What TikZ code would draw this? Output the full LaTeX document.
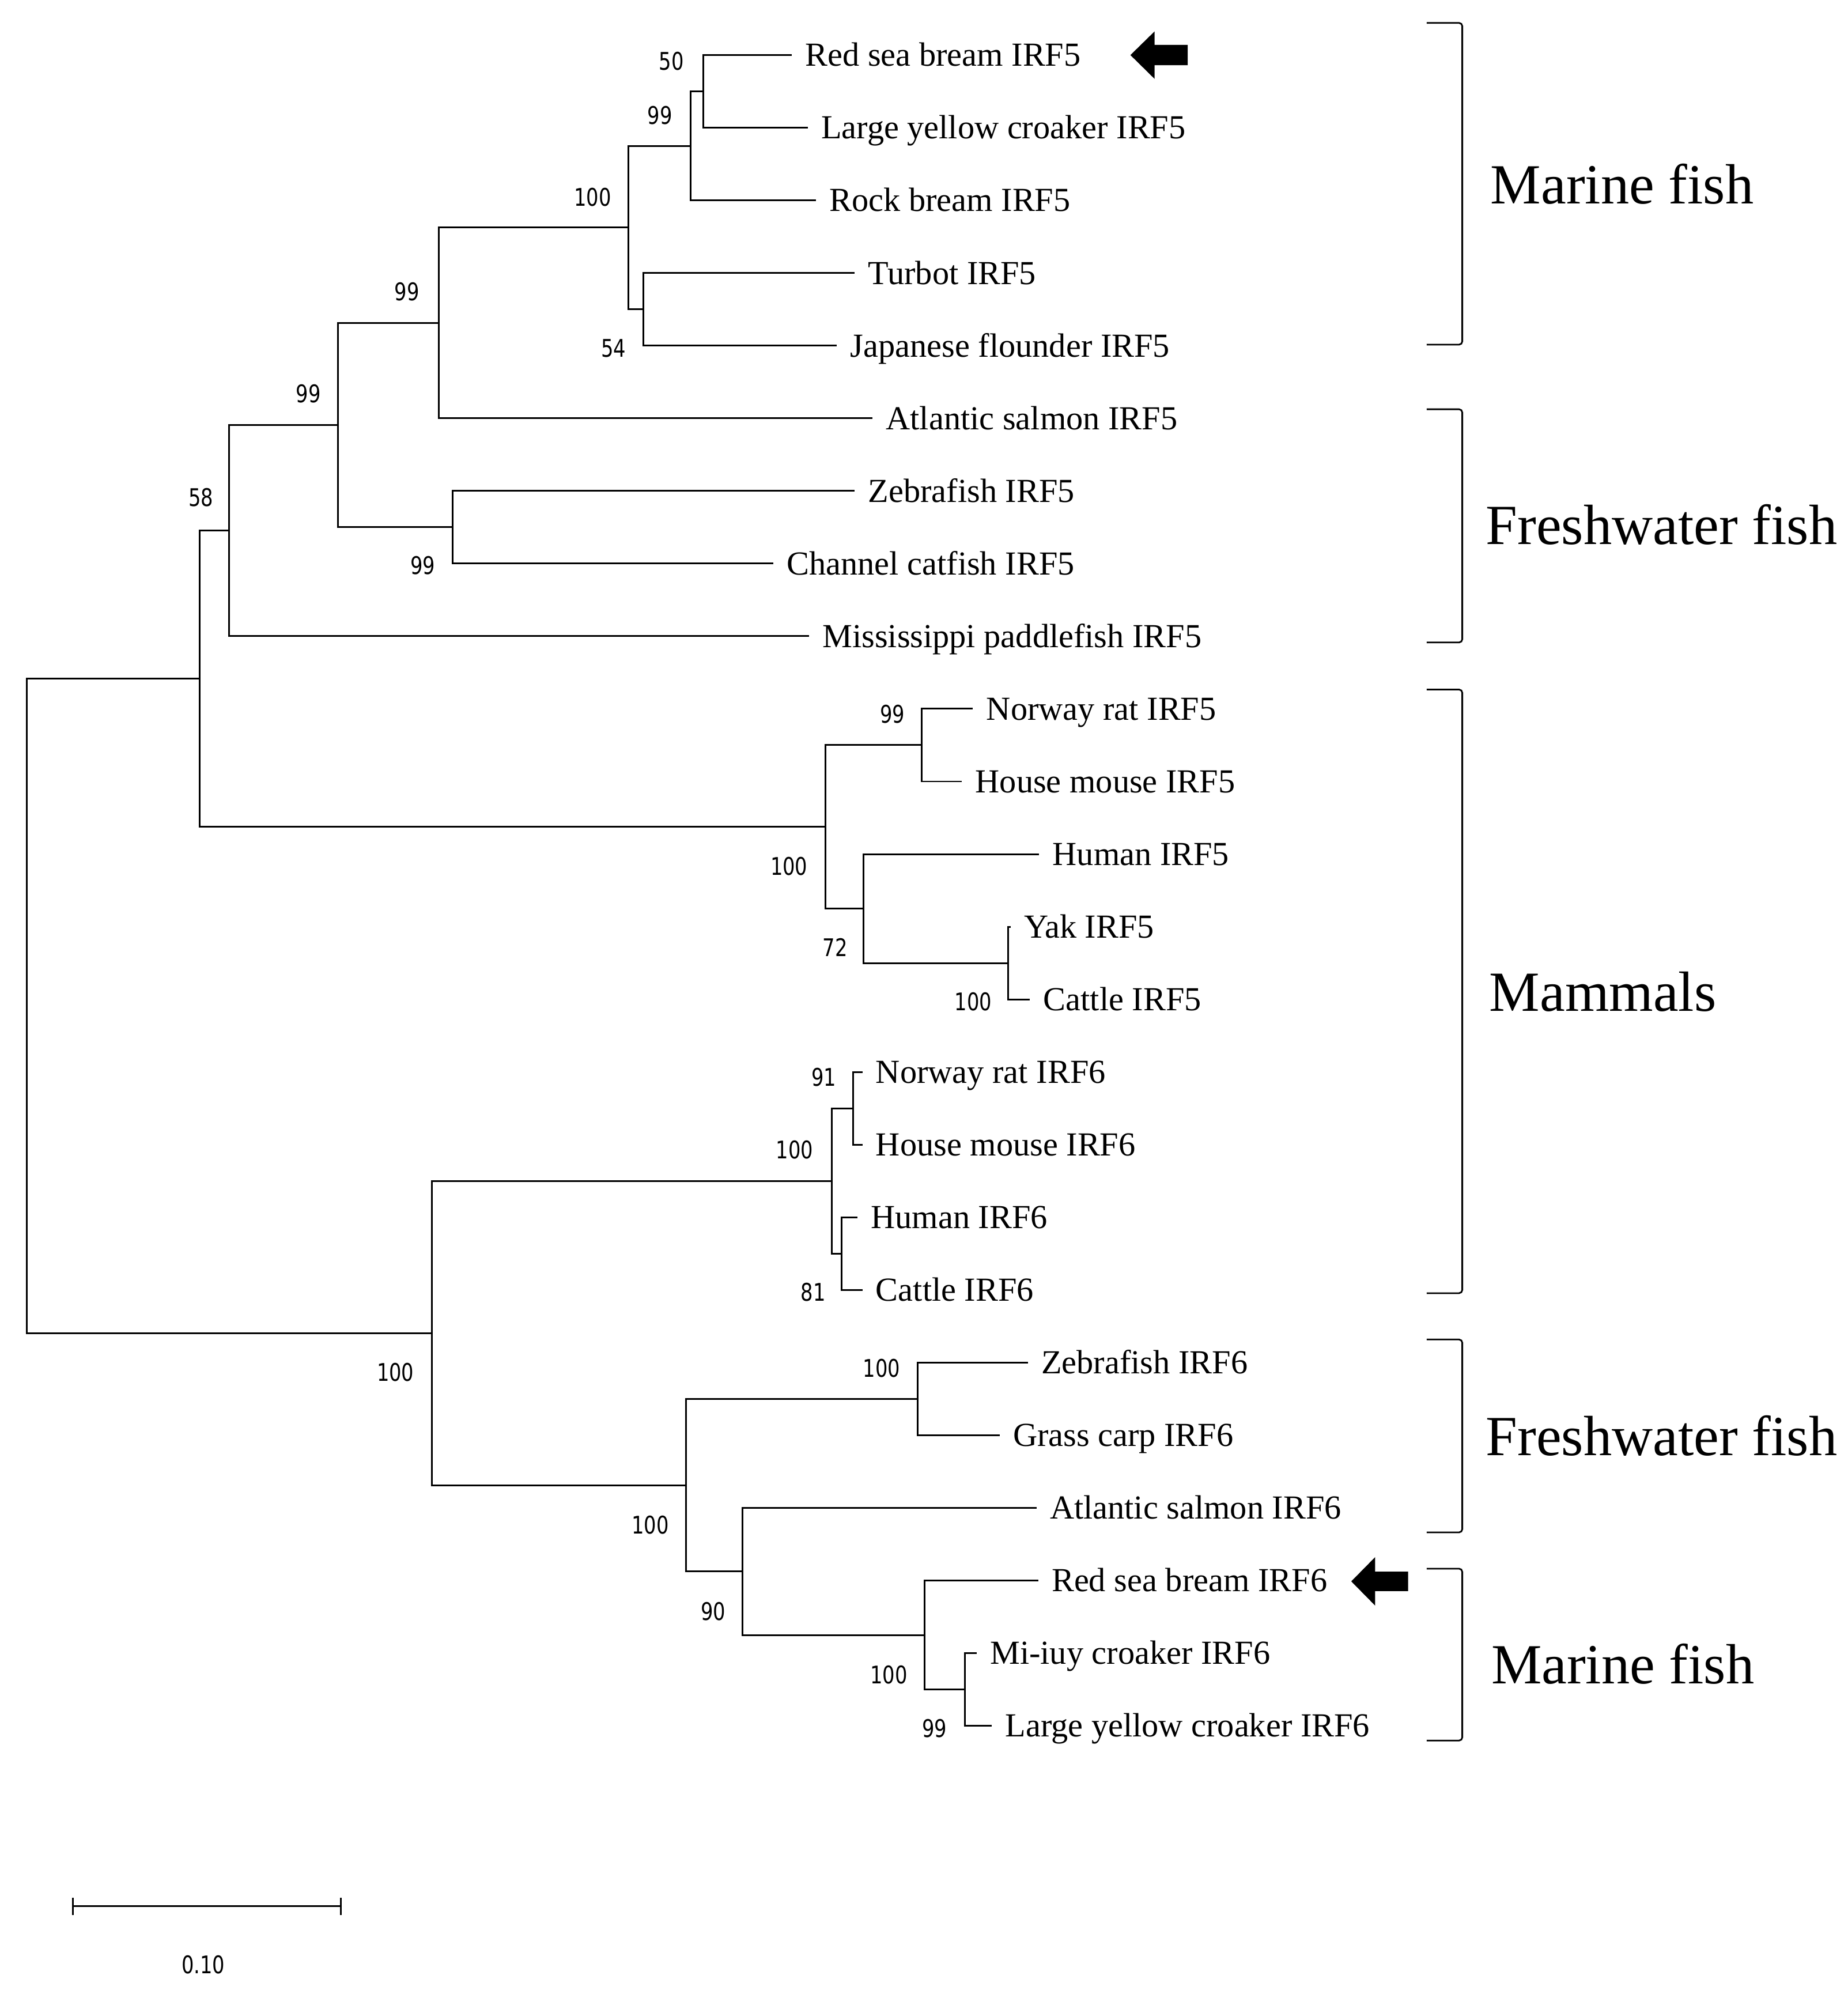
\documentclass[tikz,border=0pt]{standalone}
\usepackage{fontspec}
\setmainfont{Liberation Serif}
\newfontfamily\bsfont[FakeStretch=0.8]{DejaVu Sans}
\begin{document}
\begin{tikzpicture}[x=0.022065cm,y=-0.022065cm,
  br/.style={line width=0.85pt,line cap=rect},
  leaf/.style={anchor=west,inner xsep=0.2427cm,inner ysep=0pt,text height=11pt,text depth=0pt,font=\fontsize{16.6}{18}\selectfont},
  bs/.style={inner sep=0pt,font=\bsfont\fontsize{12}{13}\selectfont},
  grp/.style={anchor=base west,inner sep=0pt,font=\fontsize{28}{30}\selectfont},
  brk/.style={line width=0.8pt,rounded corners=1.6pt},
  pointer/.style={fill=black}]
\useasboundingbox (0,0) rectangle (1453,1568);
% leaves
\node[leaf] (l1)  at (622.0, 43.30)   {Red sea bream IRF5};
\node[leaf] (l2)  at (634.5, 100.42)  {Large yellow croaker IRF5};
\node[leaf] (l3)  at (641.0, 157.54)  {Rock bream IRF5};
\node[leaf] (l4)  at (671.5, 214.66)  {Turbot IRF5};
\node[leaf] (l5)  at (657.5, 271.78)  {Japanese flounder IRF5};
\node[leaf] (l6)  at (685.5, 328.90)  {Atlantic salmon IRF5};
\node[leaf] (l7)  at (671.5, 386.02)  {Zebrafish IRF5};
\node[leaf] (l8)  at (607.5, 443.14)  {Channel catfish IRF5};
\node[leaf] (l9)  at (635.5, 500.26)  {Mississippi paddlefish IRF5};
\node[leaf] (l10) at (764.5, 557.38)  {Norway rat IRF5};
\node[leaf] (l11) at (755.8, 614.50)  {House mouse IRF5};
\node[leaf] (l12) at (816.5, 671.62)  {Human IRF5};
\node[leaf] (l13) at (794.0, 728.74)  {Yak IRF5};
\node[leaf] (l14) at (809.3, 785.86)  {Cattle IRF5};
\node[leaf] (l15) at (677.5, 842.98)  {Norway rat IRF6};
\node[leaf] (l16) at (677.5, 900.10)  {House mouse IRF6};
\node[leaf] (l17) at (673.7, 957.22)  {Human IRF6};
\node[leaf] (l18) at (677.5, 1014.34) {Cattle IRF6};
\node[leaf] (l19) at (807.6, 1071.46) {Zebrafish IRF6};
\node[leaf] (l20) at (785.4, 1128.58) {Grass carp IRF6};
\node[leaf] (l21) at (814.4, 1185.70) {Atlantic salmon IRF6};
\node[leaf] (l22) at (815.8, 1242.82) {Red sea bream IRF6};
\node[leaf] (l23) at (767.3, 1299.94) {Mi-iuy croaker IRF6};
\node[leaf] (l24) at (779.3, 1357.06) {Large yellow croaker IRF6};
% internal nodes
\coordinate (A) at (553, 71.86);
\coordinate (B) at (543, 114.70);
\coordinate (C) at (506, 243.22);
\coordinate (D) at (494, 178.96);
\coordinate (E) at (345, 253.93);
\coordinate (F) at (356, 414.58);
\coordinate (G) at (266, 334.26);
\coordinate (H) at (180, 417.26);
\coordinate (I) at (725, 585.94);
\coordinate (J) at (793, 757.30);
\coordinate (K) at (679, 714.46);
\coordinate (L) at (649, 650.20);
\coordinate (M) at (157, 533.73);
\coordinate (O) at (671, 871.54);
\coordinate (P) at (662, 985.78);
\coordinate (Q) at (654, 928.66);
\coordinate (R) at (721.5, 1100.02);
\coordinate (S) at (759, 1328.50);
\coordinate (T) at (727, 1285.66);
\coordinate (U) at (584, 1235.68);
\coordinate (V) at (539.5, 1167.85);
\coordinate (W) at (339.5, 1048.26);
\coordinate (root) at (21, 790.99);
% branches
\draw[br] (A) |- (l1.west); \draw[br] (A) |- (l2.west);
\draw[br] (B) |- (A);       \draw[br] (B) |- (l3.west);
\draw[br] (C) |- (l4.west); \draw[br] (C) |- (l5.west);
\draw[br] (D) |- (B);       \draw[br] (D) |- (C);
\draw[br] (E) |- (D);       \draw[br] (E) |- (l6.west);
\draw[br] (F) |- (l7.west); \draw[br] (F) |- (l8.west);
\draw[br] (G) |- (E);       \draw[br] (G) |- (F);
\draw[br] (H) |- (G);       \draw[br] (H) |- (l9.west);
\draw[br] (I) |- (l10.west); \draw[br] (I) |- (l11.west);
\draw[br] (J) |- (l13.west); \draw[br] (J) |- (l14.west);
\draw[br] (K) |- (l12.west); \draw[br] (K) |- (J);
\draw[br] (L) |- (I);       \draw[br] (L) |- (K);
\draw[br] (M) |- (H);       \draw[br] (M) |- (L);
\draw[br] (O) |- (l15.west); \draw[br] (O) |- (l16.west);
\draw[br] (P) |- (l17.west); \draw[br] (P) |- (l18.west);
\draw[br] (Q) |- (O);       \draw[br] (Q) |- (P);
\draw[br] (R) |- (l19.west); \draw[br] (R) |- (l20.west);
\draw[br] (S) |- (l23.west); \draw[br] (S) |- (l24.west);
\draw[br] (T) |- (l22.west); \draw[br] (T) |- (S);
\draw[br] (U) |- (l21.west); \draw[br] (U) |- (T);
\draw[br] (V) |- (R);       \draw[br] (V) |- (U);
\draw[br] (W) |- (Q);       \draw[br] (W) |- (V);
\draw[br] (root) |- (M);    \draw[br] (root) |- (W);
% bootstrap values
\node[bs] (bA) at (528, 48.3) {50};
\node[bs] (bB) at (519, 90.6) {99};
\node[bs] (bD) at (466, 155) {100};
\node[bs] (bC) at (482.5, 274) {54};
\node[bs] (bE) at (320, 229.5) {99};
\node[bs] (bF) at (332.5, 444.5) {99};
\node[bs] (bG) at (242.6, 309.7) {99};
\node[bs] (bH) at (158, 391.3) {58};
\node[bs] (bI) at (701.8, 561.6) {99};
\node[bs] (bL) at (620.5, 681.4) {100};
\node[bs] (bK) at (656.7, 745) {72};
\node[bs] (bJ) at (765.4, 787.8) {100};
\node[bs] (bO) at (648, 847) {91};
\node[bs] (bQ) at (625, 904) {100};
\node[bs] (bP) at (639.6, 1016) {81};
\node[bs] (bR) at (693.4, 1075.9) {100};
\node[bs] (bW) at (311, 1079) {100};
\node[bs] (bV) at (511.5, 1199.2) {100};
\node[bs] (bU) at (560.8, 1267.2) {90};
\node[bs] (bT) at (699, 1316.8) {100};
\node[bs] (bS) at (735, 1359) {99};
% arrows
\fill[pointer] (889,43.3) -- (908,24.7) -- (908,35.3) -- (934,35.3) -- (934,51.3) -- (908,51.3) -- (908,62) -- cycle;
\fill[pointer] (1062.7,1243.5) -- (1081.4,1224.5) -- (1081.4,1235.9) -- (1107.4,1235.9) -- (1107.4,1251.1) -- (1081.4,1251.1) -- (1081.4,1262.5) -- cycle;
% brackets
\draw[brk] (1122,18) -- (1150,18) -- (1150,271) -- (1122,271);
\draw[brk] (1122,321.8) -- (1150,321.8) -- (1150,505.2) -- (1122,505.2);
\draw[brk] (1122,542.2) -- (1150,542.2) -- (1150,1016.9) -- (1122,1016.9);
\draw[brk] (1122,1053.3) -- (1150,1053.3) -- (1150,1205) -- (1122,1205);
\draw[brk] (1122,1233.5) -- (1150,1233.5) -- (1150,1368.7) -- (1122,1368.7);
% group labels
\node[grp] (g1) at (1172, 160) {Marine fish};
\node[grp] (g2) at (1168.3, 428) {Freshwater fish};
\node[grp] (g3) at (1171.1, 795.3) {Mammals};
\node[grp] (g4) at (1168.3, 1144.3) {Freshwater fish};
\node[grp] (g5) at (1172.5, 1324.1) {Marine fish};
% scale bar
\coordinate (sb1) at (57.2,1499);
\coordinate (sb2) at (268,1499);
\draw[br,line cap=butt] (sb1) -- (sb2);
\draw[br,line cap=butt] ([yshift=0.15cm]sb1) -- ([yshift=-0.15cm]sb1);
\draw[br,line cap=butt] ([yshift=0.15cm]sb2) -- ([yshift=-0.15cm]sb2);
\node[bs] (sbl) at (159.8,1545) {0.10};
\end{tikzpicture}
\end{document}
